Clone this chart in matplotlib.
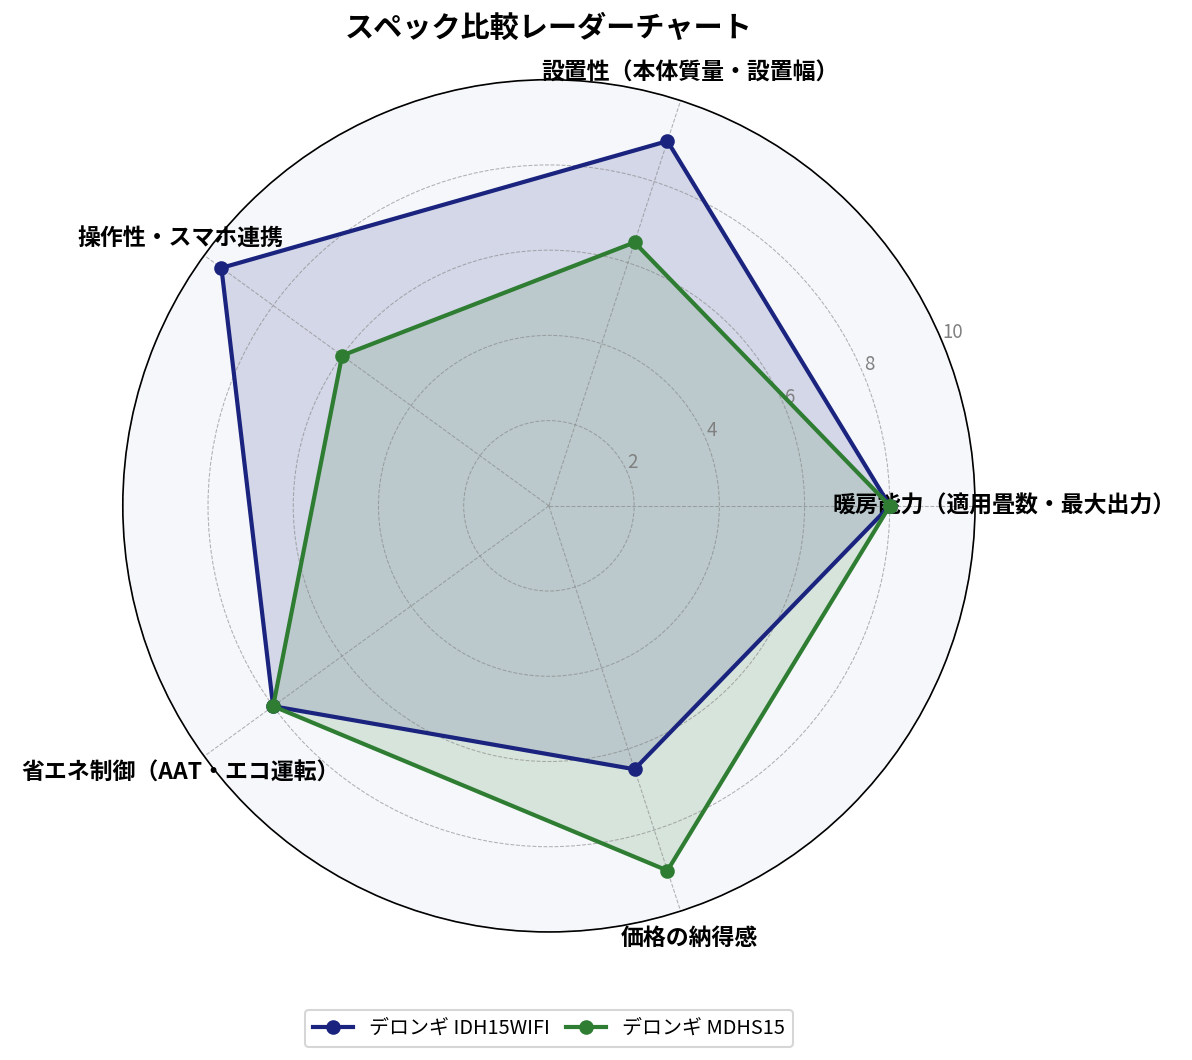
import matplotlib
matplotlib.use('Agg')
import matplotlib.pyplot as plt
import numpy as np

plt.rcParams['font.family'] = ['Noto Sans CJK JP', 'DejaVu Sans']

categories = ['暖房能力（適用畳数・最大出力）', '設置性（本体質量・設置幅）', '操作性・スマホ連携',
              '省エネ制御（AAT・エコ運転）', '価格の納得感']
idh15wifi = [8, 9, 9.5, 8, 6.5]
mdhs15 = [8, 6.5, 6, 8, 9]
series_names = ['デロンギ IDH15WIFI', 'デロンギ MDHS15']
colors = ['#1a237e', '#2e7d32']
r_ticks = [2, 4, 6, 8, 10]

n = len(categories)
angles = np.linspace(0, 2 * np.pi, n, endpoint=False).tolist()
angles += angles[:1]

fig = plt.figure(figsize=(1192 / 150, 1060 / 150), dpi=150)
ax = fig.add_axes([0.103, 0.1208, 0.715, 0.804], polar=True)
ax.set_facecolor('#f5f7fa')

for vals, name, c in zip([idh15wifi, mdhs15], series_names, colors):
    v = vals + vals[:1]
    ax.plot(angles, v, color=c, linewidth=2, marker='o', markersize=6, label=name)
    ax.fill(angles, v, color=c, alpha=0.15)

ax.set_ylim(0, 10)
ax.set_yticks(r_ticks)
ax.set_yticklabels([str(t) for t in r_ticks], color='gray', fontsize=9)
ax.set_xticks(angles[:-1])
ax.set_xticklabels(categories, fontsize=11, fontweight='bold')
ax.tick_params(axis='x', pad=3.5)
ax.grid(color='gray', linestyle='--', linewidth=0.5, alpha=0.6)
ax.spines['polar'].set_color('black')
ax.spines['polar'].set_linewidth(0.8)

fig.text(0.4606, 0.9736, 'スペック比較レーダーチャート', fontsize=14, fontweight='bold',
         ha='center', va='center')
ax.legend(loc='upper center', bbox_to_anchor=(0.5, -0.08), ncol=2, fontsize=9.6,
          columnspacing=0.8, frameon=True)

fig.savefig('out.png', dpi=150)
